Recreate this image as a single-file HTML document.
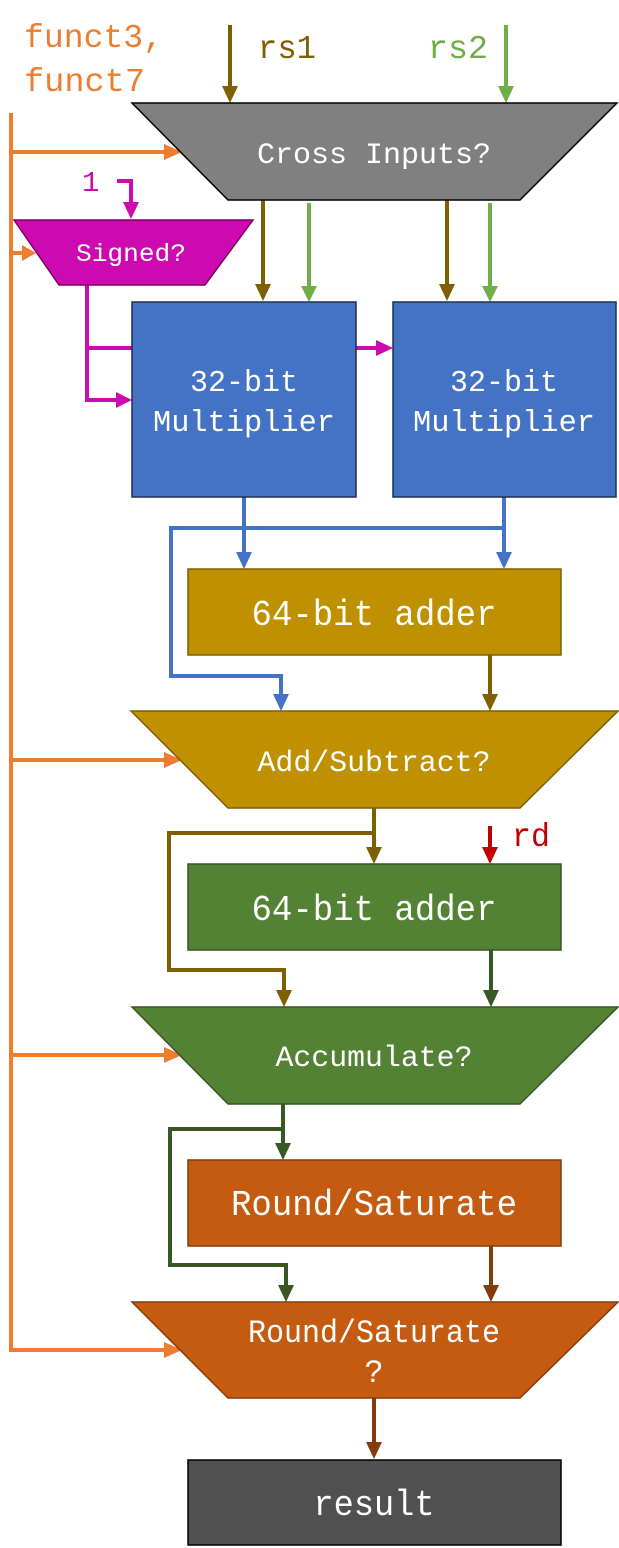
<!DOCTYPE html>
<html><head><meta charset="utf-8"><style>
html,body{margin:0;padding:0;background:#fff}
svg{display:block}
text{font-family:"Liberation Mono","DejaVu Sans Mono",monospace}
</style></head><body>
<svg width="619" height="1548" viewBox="0 0 619 1548" xmlns="http://www.w3.org/2000/svg">
<g fill="none" stroke-width="4">
<g stroke="#ED7D31">
<line x1="11" y1="113" x2="11" y2="1352"/>
<polyline points="11,152 168,152"/>
<polyline points="11,253 26,253"/>
<polyline points="11,760 168,760"/>
<polyline points="11,1055 168,1055"/>
<polyline points="11,1350 168,1350"/>
</g>
<line x1="230" y1="25" x2="230" y2="90" stroke="#7F6000"/>
<line x1="506" y1="25" x2="506" y2="90" stroke="#70AD47"/>
<g stroke="#CC0AAF">
<polyline points="117,181 131,181 131,206"/>
<polyline points="87,285 87,400 120,400"/>
<line x1="87" y1="348" x2="132" y2="348"/>
<line x1="356" y1="348" x2="380" y2="348"/>
</g>
<line x1="263" y1="200" x2="263" y2="287" stroke="#7F6000"/>
<line x1="309" y1="203" x2="309" y2="289" stroke="#70AD47"/>
<line x1="447" y1="200" x2="447" y2="287" stroke="#7F6000"/>
<line x1="490" y1="203" x2="490" y2="289" stroke="#70AD47"/>
<g stroke="#4472C4">
<line x1="244" y1="497" x2="244" y2="555"/>
<line x1="504" y1="497" x2="504" y2="555"/>
<polyline points="504,528 171,528 171,676 281,676 281,697"/>
</g>
<line x1="490" y1="655" x2="490" y2="697" stroke="#7F6000"/>
<g stroke="#7F6000">
<line x1="374" y1="808" x2="374" y2="849"/>
<polyline points="374,833 169,833 169,970 284,970 284,993"/>
</g>
<line x1="490" y1="826" x2="490" y2="850" stroke="#C00000"/>
<line x1="491" y1="950" x2="491" y2="993" stroke="#385723"/>
<g stroke="#385723">
<line x1="283" y1="1104" x2="283" y2="1147"/>
<polyline points="283,1129 170,1129 170,1265 286,1265 286,1289"/>
</g>
<line x1="491" y1="1246" x2="491" y2="1289" stroke="#843C0C"/>
<line x1="374" y1="1398" x2="374" y2="1445" stroke="#843C0C"/>
</g>
<g>
<polygon fill="#ED7D31" points="164,144 182,152 164,160"/>
<polygon fill="#ED7D31" points="22,245 36,253 22,261"/>
<polygon fill="#ED7D31" points="164,752 182,760 164,768"/>
<polygon fill="#ED7D31" points="164,1047 182,1055 164,1063"/>
<polygon fill="#ED7D31" points="164,1342 182,1350 164,1358"/>
<polygon fill="#7F6000" points="222,86 238,86 230,103"/>
<polygon fill="#70AD47" points="498,86 514,86 506,103"/>
<polygon fill="#CC0AAF" points="123,202 139,202 131,219"/>
<polygon fill="#CC0AAF" points="116,392 132,400 116,408"/>
<polygon fill="#CC0AAF" points="376,340 393,348 376,356"/>
<polygon fill="#7F6000" points="255,284 271,284 263,301"/>
<polygon fill="#70AD47" points="301,286 317,286 309,302"/>
<polygon fill="#7F6000" points="439,284 455,284 447,301"/>
<polygon fill="#70AD47" points="482,286 498,286 490,302"/>
<polygon fill="#4472C4" points="236,552 252,552 244,569"/>
<polygon fill="#4472C4" points="496,552 512,552 504,569"/>
<polygon fill="#4472C4" points="273,694 289,694 281,711"/>
<polygon fill="#7F6000" points="482,694 498,694 490,711"/>
<polygon fill="#7F6000" points="366,847 382,847 374,864"/>
<polygon fill="#C00000" points="482,847 498,847 490,864"/>
<polygon fill="#7F6000" points="276,990 292,990 284,1007"/>
<polygon fill="#385723" points="483,990 499,990 491,1007"/>
<polygon fill="#385723" points="275,1143 291,1143 283,1160"/>
<polygon fill="#385723" points="278,1285 294,1285 286,1302"/>
<polygon fill="#843C0C" points="483,1285 499,1285 491,1302"/>
<polygon fill="#843C0C" points="366,1442 382,1442 374,1459"/>
</g>
<polygon points="132,103 617,103 520,200 228,200" fill="#808080" stroke="#000" stroke-width="1.5"/>
<polygon points="14,220 253,220 205,285 59,285" fill="#CC0AAF" stroke="#7F0060" stroke-width="1.5"/>
<rect x="132" y="302" width="224" height="195" fill="#4472C4" stroke="#1F3050" stroke-width="1.5"/>
<rect x="393" y="302" width="223" height="195" fill="#4472C4" stroke="#1F3050" stroke-width="1.5"/>
<rect x="188" y="569" width="373" height="86" fill="#BF9000" stroke="#7F6000" stroke-width="1.5"/>
<polygon points="131,711 618,711 520,808 228,808" fill="#BF9000" stroke="#7F6000" stroke-width="1.5"/>
<rect x="188" y="864" width="373" height="86" fill="#548235" stroke="#385723" stroke-width="1.5"/>
<polygon points="132,1007 618,1007 520,1104 228,1104" fill="#548235" stroke="#385723" stroke-width="1.5"/>
<rect x="188" y="1160" width="373" height="86" fill="#C55A11" stroke="#843C0C" stroke-width="1.5"/>
<polygon points="132,1302 618,1302 520,1398 228,1398" fill="#C55A11" stroke="#843C0C" stroke-width="1.5"/>
<rect x="188" y="1460" width="373" height="85" fill="#505050" stroke="#000" stroke-width="1.5"/>
<g font-size="33">
<text x="24" y="47" fill="#ED7D31" textLength="139" lengthAdjust="spacingAndGlyphs">funct3,</text>
<text x="24" y="91" fill="#ED7D31" textLength="121" lengthAdjust="spacingAndGlyphs">funct7</text>
<text x="258" y="58" fill="#7F6000" textLength="58" lengthAdjust="spacingAndGlyphs">rs1</text>
<text x="428" y="58" fill="#70AD47" textLength="60" lengthAdjust="spacingAndGlyphs">rs2</text>
<text x="82" y="191" fill="#CC0AAF" font-size="29">1</text>
<text x="512" y="846" fill="#C00000" textLength="38" lengthAdjust="spacingAndGlyphs">rd</text>
</g>
<g fill="#fff" text-anchor="middle">
<text x="374" y="163" font-size="30" textLength="234" lengthAdjust="spacingAndGlyphs">Cross Inputs?</text>
<text x="131" y="261" font-size="25" textLength="110" lengthAdjust="spacingAndGlyphs">Signed?</text>
<text x="244" y="391" font-size="31" textLength="108" lengthAdjust="spacingAndGlyphs">32-bit</text>
<text x="244" y="431" font-size="31" textLength="182" lengthAdjust="spacingAndGlyphs">Multiplier</text>
<text x="504" y="391" font-size="31" textLength="108" lengthAdjust="spacingAndGlyphs">32-bit</text>
<text x="504" y="431" font-size="31" textLength="182" lengthAdjust="spacingAndGlyphs">Multiplier</text>
<text x="374" y="625" font-size="36" textLength="245" lengthAdjust="spacingAndGlyphs">64-bit adder</text>
<text x="374" y="771" font-size="30" textLength="233" lengthAdjust="spacingAndGlyphs">Add/Subtract?</text>
<text x="374" y="920" font-size="36" textLength="245" lengthAdjust="spacingAndGlyphs">64-bit adder</text>
<text x="374" y="1066" font-size="30" textLength="197" lengthAdjust="spacingAndGlyphs">Accumulate?</text>
<text x="374" y="1215" font-size="36" textLength="286" lengthAdjust="spacingAndGlyphs">Round/Saturate</text>
<text x="374" y="1342" font-size="32" textLength="252" lengthAdjust="spacingAndGlyphs">Round/Saturate</text>
<text x="374" y="1382" font-size="32">?</text>
<text x="374" y="1515" font-size="36" textLength="121" lengthAdjust="spacingAndGlyphs">result</text>
</g>
</svg>
</body></html>
